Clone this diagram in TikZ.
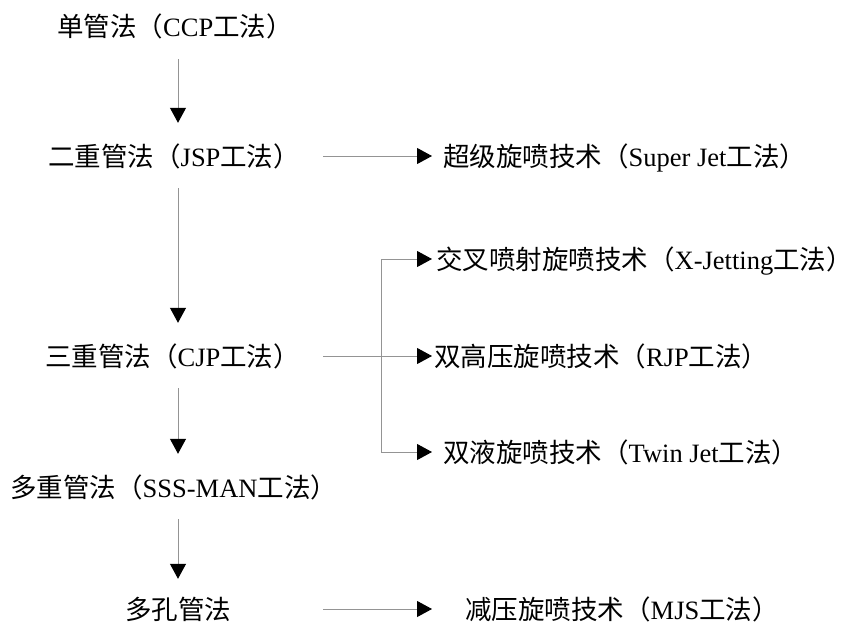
\documentclass[tikz,border=0pt]{standalone}
\usepackage{fontspec}
\setmainfont{Liberation Serif}
\newfontfamily\cjk{Noto Sans CJK SC}
\usetikzlibrary{arrows.meta}
\newcommand\zh[1]{{\cjk #1}}
\tikzset{
  lbl/.style={anchor=west, inner sep=0pt, text height=23pt, text depth=3pt,
    font=\fontsize{26.5}{30}\selectfont},
  conn/.style={draw=black!42, line width=1pt, -{Triangle[length=15pt,width=16pt,color=black]}},
  vconn/.style={conn, shorten <=19pt, shorten >=20pt},
}
\begin{document}
\begin{tikzpicture}[x=1pt,y=-1pt]
\useasboundingbox (0,0) rectangle (859,626);
% left column
\node[lbl] (n1) at (57,27) {\zh{单管法（}CCP\zh{工法）}};
\node[lbl] (n2) at (48,156) {\zh{二重管法（}JSP\zh{工法）}};
\node[lbl] (n3) at (45,356) {\zh{三重管法（}CJP\zh{工法）}};
\node[lbl] (n4) at (10,487) {\zh{多重管法（}SSS-MAN\zh{工法）}};
\node[lbl] (n5) at (125,609) {\zh{多孔管法}};
% right column
\node[lbl] (r1) at (443,156) {\zh{超级旋喷技术（}Super Jet\zh{工法）}};
\node[lbl] (r2) at (436,259) {\zh{交叉喷射旋喷技术（}X-Jetting\zh{工法）}};
\node[lbl] (r3) at (434,356) {\zh{双高压旋喷技术（}RJP\zh{工法）}};
\node[lbl] (r4) at (443,452) {\zh{双液旋喷技术（}Twin Jet\zh{工法）}};
\node[lbl] (r5) at (465,609) {\zh{减压旋喷技术（}MJS\zh{工法）}};
% guide coordinates
\coordinate (col) at (178,0);
\coordinate (hs) at (323,0);
\coordinate (he) at (432,0);
\coordinate (bx) at (381,0);
% vertical arrows
\draw[vconn] (n1.south -| col) -- (n2.north -| col);
\draw[vconn] (n2.south -| col) -- (n3.north -| col);
\draw[vconn] (n3.south -| col) -- (n4.north -| col);
\draw[vconn, shorten >=17pt] (n4.south -| col) -- (n5.north -| col);
% horizontal arrows
\draw[conn] (hs |- n2) -- (he |- r1);
\draw[conn] (hs |- n3) -- (he |- r3);
\draw[conn] (hs |- n5) -- (he |- r5);
% branch
\draw[conn, {Triangle[length=15pt,width=16pt,color=black]}-{Triangle[length=15pt,width=16pt,color=black]}]
  (he |- r2) -- (bx |- r2) -- (bx |- r4) -- (he |- r4);
\end{tikzpicture}
\end{document}
